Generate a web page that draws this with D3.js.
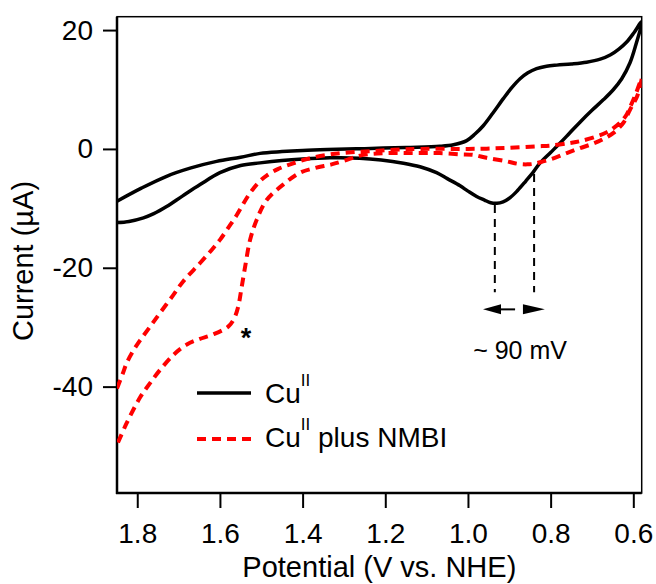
<!DOCTYPE html>
<html>
<head>
<meta charset="utf-8">
<script src="https://cdn.jsdelivr.net/npm/d3@7"></script>
<style>
  body { margin: 0; background: #fff; }
  text { font-family: "Liberation Sans", Arial, sans-serif; fill: #000; }
</style>
</head>
<body>
<script>
//Width and height
var w = 656;
var h = 584;

// tick values
var xTicks = [1.8, 1.6, 1.4, 1.2, 1.0, 0.8, 0.6];
var yTicks = [20, 0, -20, -40];

// Cu(II) alone: forward branch (1.85 -> 0.58 V) then reverse branch back
var cuForward = [[1.849,-8.8],[1.79,-6.6],[1.729,-4.6],[1.67,-3.2],[1.608,-2.1],[1.55,-1.4],
  [1.503,-0.75],[1.45,-0.45],[1.40,-0.25],[1.34,-0.1],[1.25,0.05],[1.15,0.25],[1.068,0.44],
  [1.035,0.7],[1.003,1.4],[0.983,2.5],[0.963,3.9],[0.94,6.0],[0.914,8.5],[0.894,10.3],
  [0.874,11.8],[0.855,12.8],[0.834,13.5],[0.81,13.9],[0.785,14.1],[0.75,14.3],[0.713,14.6],
  [0.68,15.1],[0.656,15.8],[0.635,16.8],[0.616,18.0],[0.598,19.6],[0.5797,21.4]];
var cuReverse = [[0.5797,21.4],[0.594,17.5],[0.608,14.5],[0.628,11.8],[0.648,10.0],[0.672,8.3],
  [0.70,6.5],[0.729,4.5],[0.755,2.6],[0.777,1.0],[0.80,-0.6],[0.826,-2.4],[0.842,-3.9],
  [0.86,-5.4],[0.88,-7.0],[0.898,-8.2],[0.915,-8.9],[0.93,-9.15],[0.945,-9.05],[0.96,-8.6],
  [0.979,-8.0],[1.0,-7.1],[1.019,-6.2],[1.05,-5.0],[1.076,-4.0],[1.116,-3.0],[1.156,-2.4],
  [1.21,-1.85],[1.262,-1.55],[1.334,-1.5],[1.40,-1.7],[1.45,-1.95],[1.503,-2.35],[1.55,-2.8],
  [1.60,-4.0],[1.648,-6.0],[1.69,-7.9],[1.729,-9.7],[1.76,-10.9],[1.785,-11.6],[1.82,-12.2],
  [1.849,-12.4]];

// Cu(II) plus NMBI
var nmbiForward = [[1.849,-40.3],[1.835,-37.8],[1.826,-36.1],[1.81,-34.0],[1.793,-32.2],
  [1.77,-30.0],[1.745,-27.6],[1.713,-24.6],[1.689,-22.3],[1.648,-19.2],[1.62,-17.0],[1.6,-15.3],
  [1.58,-13.3],[1.56,-11.2],[1.527,-7.4],[1.503,-5.4],[1.487,-4.5],[1.46,-3.4],[1.43,-2.6],
  [1.39,-1.7],[1.342,-1.0],[1.29,-0.6],[1.237,-0.4],[1.18,-0.15],[1.116,0.0],[1.0,0.0],
  [0.955,0.05],[0.906,0.17],[0.834,0.44],[0.8,0.56],[0.753,1.0],[0.729,1.3],[0.689,2.1],
  [0.664,2.8],[0.648,3.5],[0.628,4.7],[0.616,5.8],[0.608,7.0],[0.596,8.9],[0.5797,11.9]];
var nmbiReverse = [[0.5797,11.9],[0.59,9.0],[0.6,7.6],[0.608,6.6],[0.624,4.4],[0.648,2.7],
  [0.672,1.7],[0.697,0.9],[0.73,0.1],[0.761,-0.7],[0.79,-1.5],[0.818,-2.1],[0.84,-2.5],
  [0.858,-2.6],[0.88,-2.5],[0.906,-2.1],[0.955,-1.5],[0.987,-1.0],[1.019,-0.9],[1.068,-0.7],
  [1.116,-0.7],[1.197,-0.7],[1.253,-1.0],[1.30,-2.0],[1.33,-2.6],[1.37,-3.2],[1.406,-4.0],
  [1.447,-6.0],[1.487,-8.6],[1.511,-11.9],[1.527,-15.3],[1.539,-19.8],[1.548,-23.5],
  [1.556,-26.6],[1.566,-28.6],[1.58,-29.9],[1.616,-31.2],[1.65,-32.0],[1.68,-32.9],
  [1.71,-34.5],[1.745,-37.2],[1.77,-39.5],[1.793,-41.8],[1.826,-46.2],[1.849,-49.8]];

// peak positions marked with dashed drop lines (V, current at curve)
var peakMarks = [[0.935,-9.1],[0.84,-3.9]];

//Create SVG element
var svg = d3.select("body")
            .append("svg")
            .attr("width", w)
            .attr("height", h);

// plot frame in pixels
var pLeft = 117, pRight = 641.7, pTop = 16.7, pBottom = 493;

var x = d3.scaleLinear().domain([1.849, 0.5797]).range([pLeft, pRight]);
var y = d3.scaleLinear().domain([-57.9, 22.25]).range([pBottom, pTop]);

svg.append("clipPath").attr("id", "clip")
   .append("rect")
   .attr("x", pLeft).attr("y", pTop)
   .attr("width", pRight - pLeft).attr("height", pBottom - pTop);

// thin frame on top / right
svg.append("rect")
   .attr("x", pLeft).attr("y", pTop)
   .attr("width", pRight - pLeft).attr("height", pBottom - pTop)
   .style("fill", "none")
   .style("stroke", "#000")
   .style("stroke-width", 1.5);

// x axis
var xAxis = svg.append("g")
   .attr("transform", "translate(0," + pBottom + ")")
   .call(d3.axisBottom(x).tickValues(xTicks).tickFormat(d3.format(".1f"))
           .tickSize(15).tickPadding(15));
// y axis
var yAxis = svg.append("g")
   .attr("transform", "translate(" + pLeft + ",0)")
   .call(d3.axisLeft(y).tickValues(yTicks).tickFormat(function(d){ return d; })
           .tickSize(14).tickPadding(10));

[xAxis, yAxis].forEach(function(a){
    a.select(".domain").remove();
    a.selectAll(".tick line").style("stroke", "#000").style("stroke-width", 2);
    a.selectAll("text")
     .style("font-size", "28px")
     .style("font-family", "'Liberation Sans', Arial, sans-serif");
});

// heavier left and bottom axis lines
svg.append("line").attr("x1", pLeft).attr("x2", pLeft).attr("y1", pTop).attr("y2", pBottom + 1)
   .style("stroke", "#000").style("stroke-width", 2.5);
svg.append("line").attr("x1", pLeft - 1).attr("x2", pRight).attr("y1", pBottom).attr("y2", pBottom)
   .style("stroke", "#000").style("stroke-width", 2.5);

// axis titles
svg.append("text")
   .attr("x", (pLeft + pRight) / 2)
   .attr("y", 577)
   .attr("text-anchor", "middle")
   .style("font-size", "29px")
   .text("Potential (V vs. NHE)");

svg.append("text")
   .attr("transform", "translate(33,261) rotate(-90)")
   .attr("text-anchor", "middle")
   .style("font-size", "29px")
   .text("Current (\u00b5A)");

//Define line generator
var line = d3.line()
             .x(function(d){ return x(d[0]); })
             .y(function(d){ return y(d[1]); })
             .curve(d3.curveCatmullRom.alpha(0.5));

var curves = svg.append("g").attr("clip-path", "url(#clip)");

curves.append("path")
      .attr("d", line(cuForward.concat(cuReverse.slice(1))))
      .style("fill", "none")
      .style("stroke", "#000")
      .style("stroke-width", 3.5)
      .style("stroke-linejoin", "round");

curves.append("path")
      .attr("d", line(nmbiForward.concat(nmbiReverse.slice(1))))
      .style("fill", "none")
      .style("stroke", "#ff0000")
      .style("stroke-width", 4)
      .style("stroke-dasharray", "9,6");

// dashed drop lines from the two peaks
var dropTo = -24.1;
svg.selectAll("line.drop")
   .data(peakMarks)
   .enter()
   .append("line")
   .attr("class", "drop")
   .attr("x1", function(d){ return x(d[0]); })
   .attr("x2", function(d){ return x(d[0]); })
   .attr("y1", function(d){ return y(d[1]) + 2; })
   .attr("y2", y(dropTo))
   .style("stroke", "#000")
   .style("stroke-width", 2)
   .style("stroke-dasharray", "8,6");

// arrows (left one with shaft, right one just head)
var arrowY = y(-27.0);
svg.append("line")
   .attr("x1", x(0.93)).attr("x2", x(0.886))
   .attr("y1", arrowY).attr("y2", arrowY)
   .style("stroke", "#000").style("stroke-width", 2);
svg.append("path")
   .attr("d", "M" + x(0.9636) + "," + arrowY + "L" + x(0.92) + "," + (arrowY - 5) +
              "L" + x(0.92) + "," + (arrowY + 5) + "Z")
   .style("fill", "#000");
svg.append("path")
   .attr("d", "M" + x(0.814) + "," + arrowY + "L" + x(0.867) + "," + (arrowY - 5) +
              "L" + x(0.867) + "," + (arrowY + 5) + "Z")
   .style("fill", "#000");

svg.append("text")
   .attr("x", x(0.874))
   .attr("y", y(-35.3))
   .attr("text-anchor", "middle")
   .style("font-size", "25px")
   .text("~ 90 mV");

svg.append("text")
   .attr("x", x(1.537))
   .attr("y", y(-33.3))
   .attr("text-anchor", "middle")
   .style("font-size", "27px")
   .style("font-weight", "bold")
   .text("*");

/* legend */
var legend = svg.append("g");
var rows = [{label: "", color: "#000", dash: null, w: 3.5},
            {label: " plus NMBI", color: "#ff0000", dash: "9,6", w: 4}];

var entry = legend.selectAll("g")
   .data(rows)
   .enter()
   .append("g")
   .attr("transform", function(d, i){ return "translate(197," + (393 + i * 46) + ")"; });

entry.append("line")
     .attr("x1", 0).attr("x2", 54)
     .style("stroke", function(d){ return d.color; })
     .style("stroke-width", function(d){ return d.w; })
     .style("stroke-dasharray", function(d){ return d.dash; });

var lt = entry.append("text")
     .attr("x", 68)
     .attr("y", function(d, i){ return i === 0 ? 10 : 8; })
     .style("font-size", "28px");
lt.append("tspan").text("Cu");
lt.append("tspan").attr("dy", -17).style("font-size", "17px").text("II");
lt.append("tspan").attr("dy", 17).text(function(d){ return d.label; });
</script>
</body>
</html>
